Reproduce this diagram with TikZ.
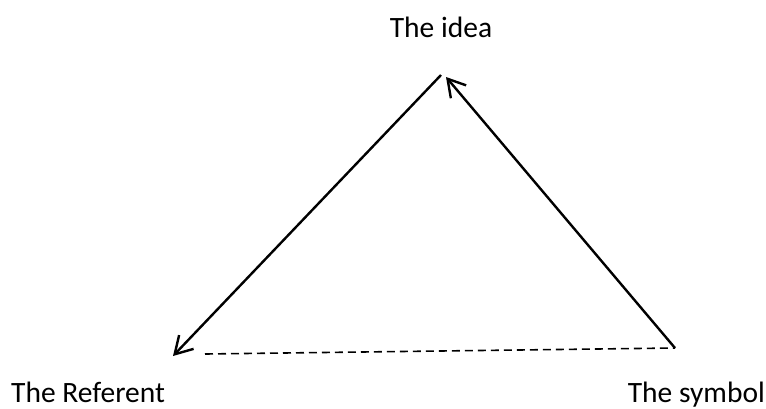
\documentclass[tikz,border=0pt]{standalone}
\usepackage{fontspec}
\setmainfont{Carlito}
\usetikzlibrary{arrows.meta}
\tikzset{
  lbl/.style={font=\fontsize{29.5}{35}\selectfont,inner sep=0pt},
  edge/.style={line width=2.4pt,-{Straight Barb[length=17pt,width=20pt,line width=2.4pt]}}
}

\begin{document}
\begin{tikzpicture}[x=1pt,y=-1pt]
  \useasboundingbox (0,0) rectangle (766,408);
  % corners of the triangle
  \coordinate (top) at (441,75);
  \coordinate (tip) at (446,77);
  \coordinate (left) at (173,356);
  \coordinate (right) at (675,348);
  \coordinate (dashL) at (205,354);
  % labels
  \node[lbl,anchor=base] (idea) at (441,37) {The idea};
  \node[lbl,anchor=base west] (referent) at (11,402) {The Referent};
  \node[lbl,anchor=base east] (symbol) at (765,402) {The symbol};
  % sides
  \draw[edge] (top) -- (left);
  \draw[edge] (right) -- (tip);
  \draw[line width=1.6pt,dash pattern=on 8pt off 5pt] (dashL) -- (right);
\end{tikzpicture}
\end{document}
